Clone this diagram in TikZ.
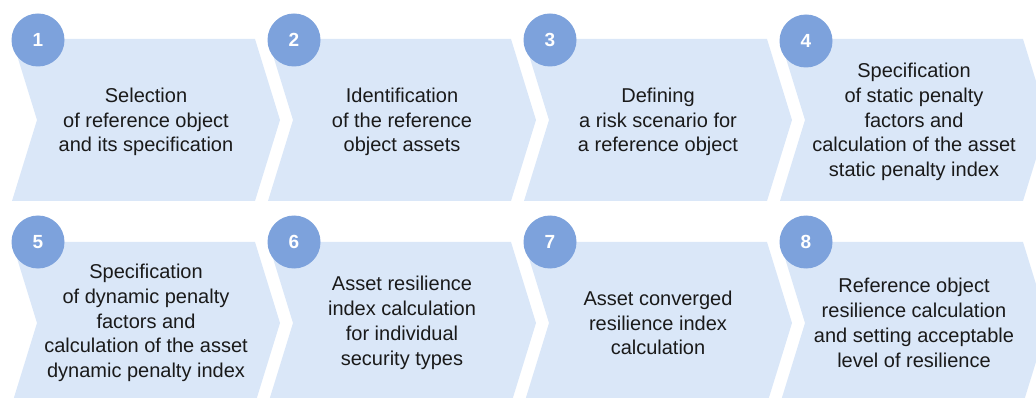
\documentclass[tikz,border=0pt]{standalone}
\usepackage{fontspec}
\setmainfont{Liberation Sans}
\definecolor{chevfill}{HTML}{DAE7F8}
\definecolor{circfill}{HTML}{7DA2DC}
\definecolor{txt}{HTML}{1A1A1A}
\tikzset{
  chev/.style={fill=chevfill, draw=none},
  numcirc/.style={circle, fill=circfill, draw=none, minimum size=53pt, inner sep=0pt,
    text=white, font=\fontsize{19}{21}\selectfont\bfseries},
  steptext/.style={align=center, text=txt, font=\fontsize{20}{24.8}\selectfont, inner sep=0pt},
}
\begin{document}
\begin{tikzpicture}[x=1pt, y=-1pt]
\useasboundingbox (0,0) rectangle (1036,398);
\clip (0,0) rectangle (1036,398);
% chevrons
\foreach \k in {0,1,2,3}{
  \pgfmathsetmacro{\xo}{12+256*\k}
  \fill[chev] (\xo,39) -- (\xo+243,39) -- (\xo+268,120) -- (\xo+243,201) -- (\xo,201) -- (\xo+25,120) -- cycle;
  \fill[chev] (\xo,242) -- (\xo+243,242) -- (\xo+268,323) -- (\xo+243,404) -- (\xo,404) -- (\xo+25,323) -- cycle;
}
% number circles
\node[numcirc] (c1) at (38,40) {1};
\node[numcirc] (c2) at (294,40) {2};
\node[numcirc] (c3) at (550,40) {3};
\node[numcirc] (c4) at (806,41) {4};
\node[numcirc] (c5) at (38,242) {5};
\node[numcirc] (c6) at (294,242) {6};
\node[numcirc] (c7) at (550,242) {7};
\node[numcirc] (c8) at (806,242) {8};
% texts
\node[steptext] (t1) at (146,122) {Selection\\of reference object\\and its specification};
\node[steptext] (t2) at (402,122) {Identification\\of the reference\\object assets};
\node[steptext] (t3) at (658,122) {Defining\\a risk scenario for\\a reference object};
\node[steptext] (t4) at (914,122) {Specification\\of static penalty\\factors and\\calculation of the asset\\static penalty index};
\node[steptext] (t5) at (146,323) {Specification\\of dynamic penalty\\factors and\\calculation of the asset\\dynamic penalty index};
\node[steptext] (t6) at (402,323) {Asset resilience\\index calculation\\for individual\\security types};
\node[steptext] (t7) at (658,323) {Asset converged\\resilience index\\calculation};
\node[steptext] (t8) at (914,323) {Reference object\\resilience calculation\\and setting acceptable\\level of resilience};
\end{tikzpicture}
\end{document}
